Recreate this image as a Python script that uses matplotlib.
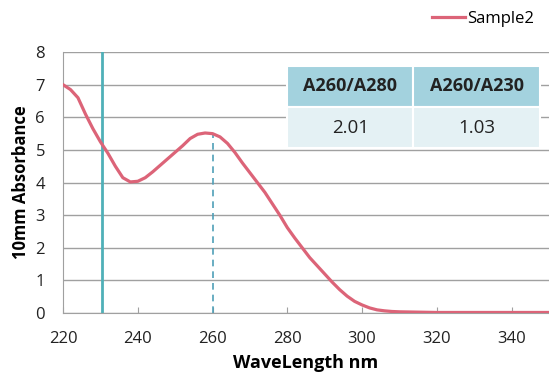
import matplotlib
matplotlib.use("Agg")
import matplotlib.pyplot as plt
import numpy as np

wavelength = [220, 222, 224, 226, 228, 230, 232, 234, 236, 238, 240, 242, 244, 246, 248, 250,
              252, 254, 256, 258, 260, 262, 264, 266, 268, 270, 272, 274, 276, 278, 280,
              282, 284, 286, 288, 290, 292, 294, 296, 298, 300, 302, 304, 306, 308, 310,
              315, 320, 330, 340, 350]
absorbance = [7.0, 6.85, 6.6, 6.1, 5.65, 5.25, 4.9, 4.5, 4.15, 4.02, 4.04, 4.15, 4.33, 4.53,
              4.73, 4.93, 5.13, 5.35, 5.48, 5.52, 5.5, 5.4, 5.2, 4.92, 4.6, 4.3, 4.0, 3.7,
              3.35, 3.0, 2.62, 2.3, 2.0, 1.7, 1.45, 1.2, 0.95, 0.72, 0.52, 0.36, 0.25, 0.16,
              0.1, 0.07, 0.05, 0.04, 0.03, 0.02, 0.02, 0.02, 0.02]
series_name = "Sample2"
solid_marker = 230.5
dashed_marker = 260
table_header = ["A260/A280", "A260/A230"]
table_values = ["2.01", "1.03"]

plt.rcParams['font.family'] = ['Open Sans', 'DejaVu Sans']

fig = plt.figure(figsize=(5.49, 3.80), dpi=100)
ax = fig.add_axes([0.1148, 0.176, 0.8852, 0.687])

ax.set_xlim(220, 350)
ax.set_ylim(0, 8)
ax.set_xticks(np.arange(220, 341, 20))
ax.set_yticks(np.arange(0, 9, 1))
ax.grid(axis='y', color='#a0a0a0', linewidth=1)
ax.set_axisbelow(True)
for s in ['top', 'right']:
    ax.spines[s].set_visible(False)
for s in ['left', 'bottom']:
    ax.spines[s].set_color('#a0a0a0')
ax.tick_params(axis='y', length=0, labelsize=12, pad=13, colors='#222222')
ax.tick_params(axis='x', length=4, direction='in', color='#a0a0a0', labelsize=12, pad=13,
               labelcolor='#222222')

line_color = '#dc6478'
ax.plot(wavelength, absorbance, color=line_color, linewidth=2.3, label=series_name, zorder=3)
ax.axvline(solid_marker, color='#4fb0b8', linewidth=2, zorder=2)
idx = wavelength.index(dashed_marker)
ax.plot([dashed_marker, dashed_marker], [0, absorbance[idx]], color='#4f9fb8',
        linewidth=1.2, linestyle=(0, (4, 3)), zorder=2)

ax.set_xlabel("WaveLength nm", fontsize=13, fontweight='bold', labelpad=5)
ax.set_ylabel("10mm Absorbance", fontsize=12, fontweight='bold', labelpad=4)

tbl = ax.table(cellText=[table_header, table_values], cellLoc='center',
               bbox=[0.461, 0.632, 0.52, 0.315], zorder=5)
tbl.auto_set_font_size(False)
for (r, c), cell in tbl.get_celld().items():
    cell.set_edgecolor('white')
    cell.set_linewidth(1.5)
    if r == 0:
        cell.set_facecolor('#a3d2de')
        cell.get_text().set_fontweight('bold')
        cell.get_text().set_fontsize(13)
    else:
        cell.set_facecolor('#e4f1f4')
        cell.get_text().set_fontsize(13.5)
    cell.get_text().set_color('#222222')

fig.legend(handles=ax.get_lines()[:1], loc='upper right', bbox_to_anchor=(1.0, 1.01),
           frameon=False, fontsize=12, handlelength=2.0, handletextpad=0.1)

fig.savefig("out.png", dpi=100)
